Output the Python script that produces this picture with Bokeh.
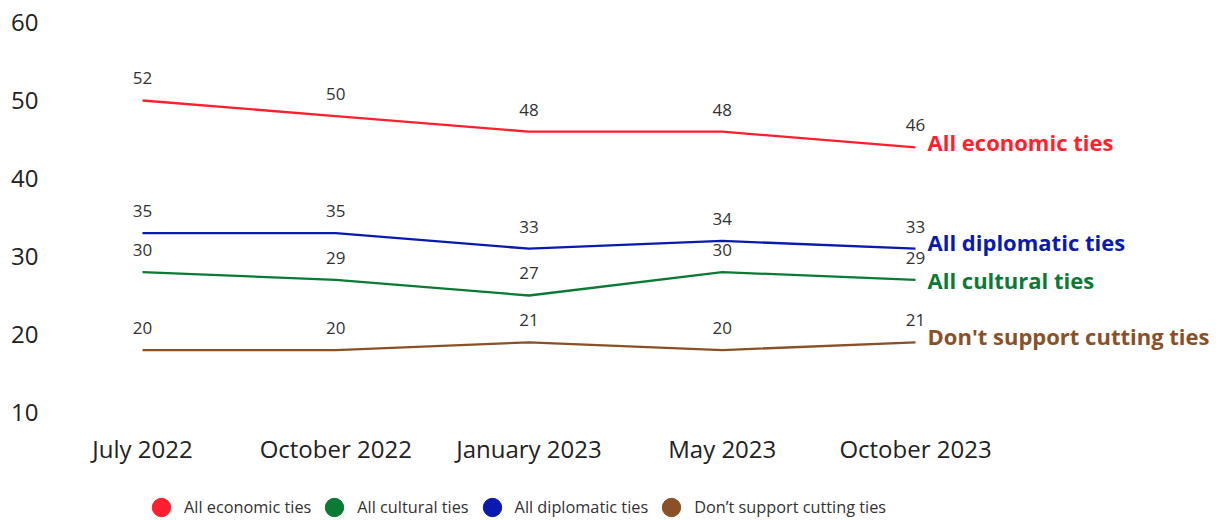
from bokeh.plotting import figure
from bokeh.layouts import column
from bokeh.models import (ColumnDataSource, FixedTicker, Range1d, Legend, LegendItem)
from bokeh.core.properties import value
from bokeh.embed import file_html
from bokeh.resources import INLINE

# ---- data ----
months = ["July 2022", "October 2022", "January 2023", "May 2023", "October 2023"]
economic = [52, 50, 48, 48, 46]
cultural = [30, 29, 27, 30, 29]
diplomatic = [35, 35, 33, 34, 33]
dont_support = [20, 20, 21, 20, 21]
series_names = ["All economic ties", "All cultural ties", "All diplomatic ties", "Don't support cutting ties"]
legend_names = ["All economic ties", "All cultural ties", "All diplomatic ties", "Don\u2019t support cutting ties"]
y_tick_labels = [10, 20, 30, 40, 50, 60]
AXIS_SHIFT = 2  # the reference's axis labels sit 2 points below the plotted values

# ---- styles ----
colors = ["#ff1f2e", "#0a7a35", "#0a1aae", "#8a5128"]
end_label_offsets = [-5, 0, -7, -6]  # order: economic, cultural, diplomatic, dont
FONT = "Open Sans"

x = list(range(len(months)))
series = [economic, cultural, diplomatic, dont_support]

p = figure(width=1219, height=470, output_backend="svg", toolbar_location=None,
           x_range=Range1d(-0.4761, 5.573), y_range=Range1d(9.692, 64.82),
           min_border_left=50, min_border_right=0, min_border_top=0, min_border_bottom=40)
p.outline_line_color = None
p.xgrid.visible = False
p.ygrid.visible = False
p.background_fill_color = "white"
p.border_fill_color = "white"

# axes
p.xaxis.ticker = FixedTicker(ticks=x)
p.xaxis.major_label_overrides = {i: m for i, m in zip(x, months)}
p.yaxis.ticker = FixedTicker(ticks=[t + AXIS_SHIFT for t in y_tick_labels])
p.yaxis.major_label_overrides = {t + AXIS_SHIFT: str(t) for t in y_tick_labels}
for ax in (p.xaxis, p.yaxis):
    ax.axis_line_color = None
    ax.major_tick_line_color = None
    ax.minor_tick_line_color = None
    ax.major_tick_out = 0
    ax.major_tick_in = 0
    ax.major_label_text_font = FONT
    ax.major_label_text_font_size = "24px"
    ax.major_label_text_color = "#222222"
p.xaxis.major_label_standoff = 1
p.yaxis.major_label_standoff = 12

# legend figure (no axes); its range excludes the data so the markers only show in the legend
lf = figure(width=1219, height=50, output_backend="svg", toolbar_location=None,
            x_axis_type=None, y_axis_type=None, x_range=Range1d(0, 1), y_range=Range1d(-2, -1),
            min_border_left=50, min_border_right=0, min_border_top=0, min_border_bottom=0)
lf.outline_line_color = None
lf.xgrid.visible = False
lf.ygrid.visible = False
lf.border_fill_color = "white"

legend_items = []
for vals, col, name, lname, off in zip(series, colors, series_names, legend_names, end_label_offsets):
    src = ColumnDataSource(dict(x=x, y=vals, t=[str(v) for v in vals]))
    p.line("x", "y", source=src, line_color=col, line_width=2.3)
    p.text("x", "y", text="t", source=src, text_font=value(FONT), text_font_size="17px",
           text_color="#333333", text_align="center", text_baseline="middle", y_offset=-22)
    end_src = ColumnDataSource(dict(x=[x[-1]], y=[vals[-1]], t=[name]))
    p.text("x", "y", text="t", source=end_src, text_font=value(FONT), text_font_size="22px",
           text_font_style="bold", text_color=col, text_align="left", text_baseline="middle",
           x_offset=12, y_offset=off)
    r = lf.scatter("x", "y", source=src, size=18, fill_color=col, line_color=col, marker="circle")
    legend_items.append(LegendItem(label=lname, renderers=[r]))

legend = Legend(items=legend_items, orientation="horizontal", location=(88, -11),
                glyph_width=46, glyph_height=48, label_standoff=0, spacing=0,
                padding=0, margin=0, border_line_color=None, background_fill_alpha=0,
                label_text_font=FONT, label_text_font_size="16.3px", label_text_color="#333333")
lf.add_layout(legend, "center")

layout = column(p, lf, spacing=0)
open("out.html", "w").write(file_html(layout, INLINE))
